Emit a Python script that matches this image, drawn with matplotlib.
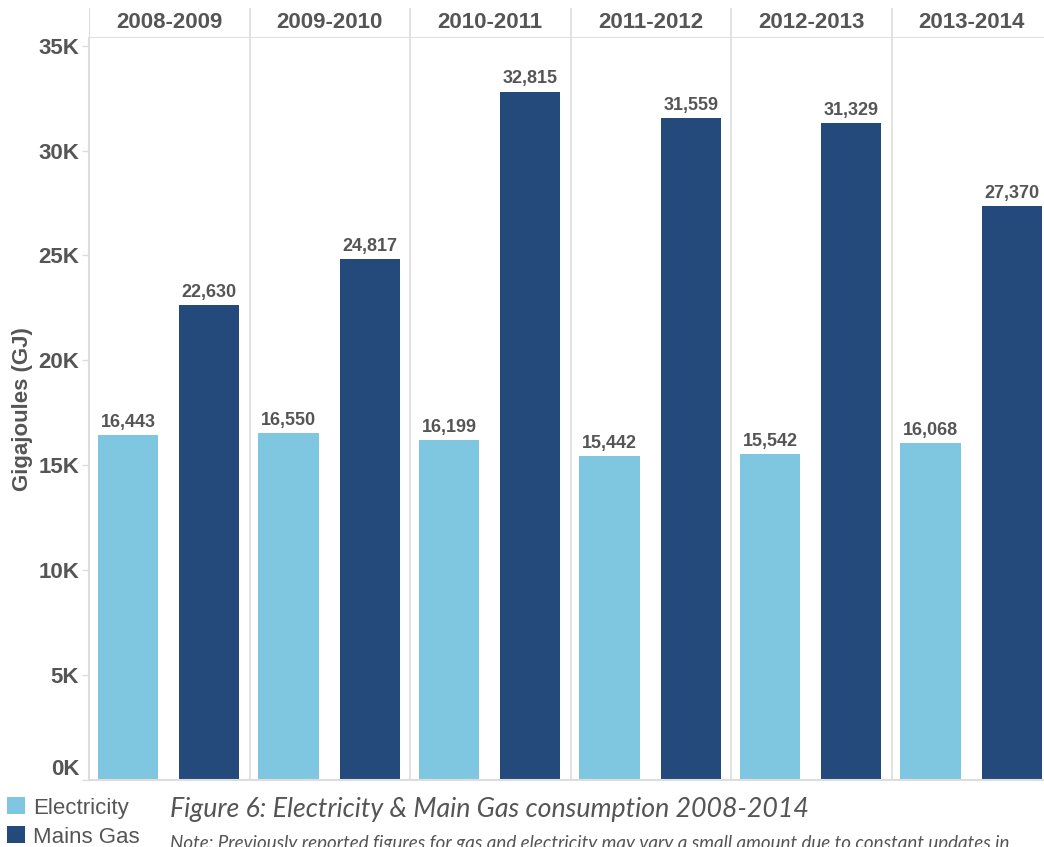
import matplotlib
matplotlib.use('Agg')
import matplotlib.pyplot as plt
import numpy as np

periods = ['2008-2009', '2009-2010', '2010-2011', '2011-2012', '2012-2013', '2013-2014']
electricity = [16443, 16550, 16199, 15442, 15542, 16068]
mains_gas = [22630, 24817, 32815, 31559, 31329, 27370]
yticks = [0, 5000, 10000, 15000, 20000, 25000, 30000, 35000]
ytick_labels = ['0K', '5K', '10K', '15K', '20K', '25K', '30K', '35K']

elec_col = '#7fc7e1'
gas_col = '#234a7b'
txt_col = '#555555'
line_col = '#dddddd'

plt.rcParams['font.family'] = ['Liberation Sans', 'DejaVu Sans']

W, H = 1044, 847
fig = plt.figure(figsize=(W / 100, H / 100), dpi=100)

# pixel layout of the plot area (panel width 160 px, last panel cut by the edge)
left, right, top, bottom = 89, 89 + 6 * 160.5, 38, 780
ax = fig.add_axes([left / W, 1 - bottom / H, (right - left) / W, (bottom - top) / H])
hx = fig.add_axes([left / W, 1 - top / H, (right - left) / W, 30 / H])

x = np.arange(len(periods))
bw = 0.375
b1 = ax.bar(x + 0.056, electricity, bw, align='edge', color=elec_col, label='Electricity')
b2 = ax.bar(x + 0.5625, mains_gas, bw, align='edge', color=gas_col, label='Mains Gas')
for b in (b1, b2):
    ax.bar_label(b, labels=[f'{v:,}' for v in b.datavalues], padding=3,
                 fontsize=13, fontweight='bold', color=txt_col)

ax.set_xlim(0, 6)
ax.set_ylim(0, 35367)
ax.set_xticks([])
ax.set_yticks(yticks)
ax.set_yticklabels(ytick_labels, fontsize=16, fontweight='bold', color=txt_col)
ax.get_yticklabels()[0].set_va('bottom')  # bottom label sits inside the plot, like tableau
ax.tick_params(axis='y', length=5, width=1, color=line_col, pad=2)
ax.set_ylabel('Gigajoules (GJ)', fontsize=16, fontweight='bold', color=txt_col, labelpad=4)
for s in ['top', 'right']:
    ax.spines[s].set_visible(False)
for s in ['left', 'bottom']:
    ax.spines[s].set_color(line_col)
    ax.spines[s].set_linewidth(1.5)
for i in range(1, 7):
    ax.axvline(i, color=line_col, lw=1.2)

# header row with period names
hx.set_xlim(0, 6)
hx.set_ylim(0, 1)
hx.set_xticks([])
hx.set_yticks([])
for s in hx.spines.values():
    s.set_visible(False)
hx.axhline(0, color=line_col, lw=2)
hx.axvline(0, color=line_col, lw=1.5)
for i in range(1, 7):
    hx.axvline(i, color=line_col, lw=1.2)
for i, p in enumerate(periods):
    hx.text(i + 0.5, 0.5, p, ha='center', va='center', fontsize=16,
            fontweight='bold', color=txt_col)

fig.legend(handles=[b1, b2], loc='lower left', bbox_to_anchor=(-6 / W, -14 / H),
           frameon=False, fontsize=16, handlelength=0.8, handleheight=0.8,
           handletextpad=0.35, labelspacing=0.35, borderpad=0.1,
           labelcolor=txt_col)

fig.text(170 / W, 1 - 809 / H, 'Figure 6: Electricity & Main Gas consumption 2008-2014',
         fontsize=19.3, style='italic', family=['Lato', 'DejaVu Sans'],
         color='#555555', va='center')
fig.text(170 / W, 1 - 843 / H,
         'Note: Previously reported figures for gas and electricity may vary a small amount '
         'due to constant updates in',
         fontsize=13.5, style='italic', family=['Lato', 'DejaVu Sans'],
         color='#555555', va='center')

fig.savefig('out.png', dpi=100)
